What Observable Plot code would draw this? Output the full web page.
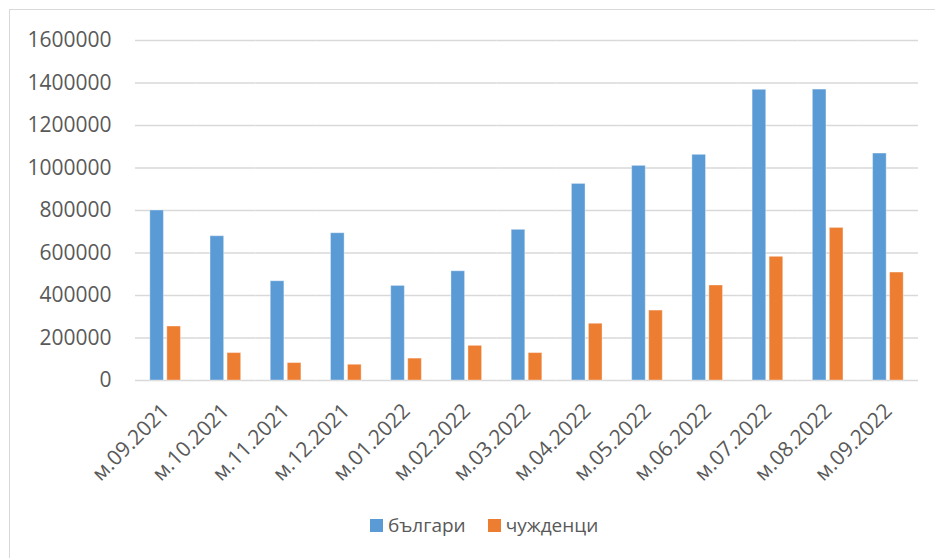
<!DOCTYPE html>
<html><head><meta charset="utf-8">
<script src="https://cdn.jsdelivr.net/npm/d3@7"></script>
<script src="https://cdn.jsdelivr.net/npm/@observablehq/plot@0.6"></script>
<style>
body{margin:0;background:#fff;font-family:"Open Sans",sans-serif;}
#frame{position:absolute;left:9px;top:9px;width:940px;height:560px;border-top:1.5px solid #d9d9d9;border-left:1.5px solid #d9d9d9;box-sizing:border-box;}
#chart{position:absolute;left:0;top:0;}
#legend{position:absolute;top:512px;left:370px;display:flex;align-items:center;font-size:19px;color:#595959;}
.item{display:flex;align-items:center;margin-right:22px;}
.sw{width:13px;height:13px;margin-right:5px;}
</style></head>
<body>
<div id="frame"></div>
<div id="chart"></div>
<div id="legend"></div>
<script>
const months = ["м.09.2021","м.10.2021","м.11.2021","м.12.2021","м.01.2022","м.02.2022","м.03.2022","м.04.2022","м.05.2022","м.06.2022","м.07.2022","м.08.2022","м.09.2022"];
const series = ["българи","чужденци"];
const bulgarians = [800000,679000,467000,693000,445000,514000,709000,925000,1010000,1062000,1368000,1369000,1068000];
const foreigners = [254000,129000,82000,74000,103000,163000,129000,267000,329000,447000,582000,718000,508000];
const yTicks = [0,200000,400000,600000,800000,1000000,1200000,1400000,1600000];
const colors = ["#5B9BD5","#ED7D31"];

const data = months.flatMap((m,i)=>[
  {month:m, series:series[0], value:bulgarians[i]},
  {month:m, series:series[1], value:foreigners[i]}
]);

const chart = Plot.plot({
  width:935, height:500,
  marginLeft:135, marginRight:17, marginTop:40, marginBottom:120,
  style:{fontFamily:"Open Sans", fontSize:"21px", color:"#595959", background:"transparent", overflow:"visible"},
  fx:{domain:months, padding:0, round:false, label:null},
  x:{domain:series, paddingInner:0.2, paddingOuter:0.87, round:false, axis:null},
  y:{domain:[0,1600000], label:null},
  color:{domain:series, range:colors},
  marks:[
    Plot.gridY(yTicks, {stroke:"#d9d9d9", strokeOpacity:1, strokeWidth:1.4}),
    Plot.barY(data, {fx:"month", x:"series", y:"value", fill:"series", stroke:"white", strokeOpacity:0.35, strokeWidth:1}),
    Plot.axisY({ticks:yTicks, tickFormat:d=>String(d), tickSize:0, tickPadding:24, label:null, fontSize:21, fill:"#595959"}),
    Plot.axisFx({anchor:"bottom", tickRotate:-45, tickSize:0, tickPadding:27, label:null, fontSize:21, fill:"#595959"})
  ]
});
document.getElementById("chart").appendChild(chart);

const legend = document.getElementById("legend");
series.forEach((s,i)=>{
  const it = document.createElement("div"); it.className="item";
  const sw = document.createElement("div"); sw.className="sw"; sw.style.background=colors[i];
  const t = document.createElement("span"); t.textContent=s;
  it.appendChild(sw); it.appendChild(t); legend.appendChild(it);
});
</script>
</body></html>
